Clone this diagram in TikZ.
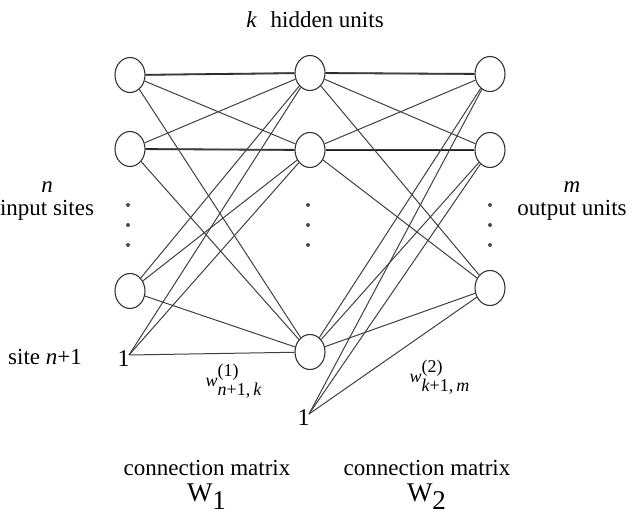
\documentclass[tikz,border=0pt]{standalone}
\usepackage{fontspec}
\setmainfont{Liberation Serif}
\usetikzlibrary{shapes.geometric}
\begin{document}
\begin{tikzpicture}[x=0.5pt,y=-0.5pt,
  unit/.style={draw=black!80,ellipse,inner sep=0pt,minimum width=15pt,minimum height=17.5pt,line width=0.55pt},
  conn/.style={draw=black!75,line width=0.5pt},
  hconn/.style={draw=black!90,line width=0.9pt},
  lbl/.style={font=\fontsize{11.5}{13}\selectfont,inner sep=0pt},
  dotc/.style={fill=black!70,circle,inner sep=0pt,minimum size=2pt}]
\useasboundingbox (0,0) rectangle (641,517);
% nodes
\node[unit] (i1) at (130,75) {};
\node[unit] (i2) at (130,149) {};
\node[unit] (i3) at (130,291) {};
\node[unit] (h1) at (310,73) {};
\node[unit] (h2) at (310,150) {};
\node[unit] (h3) at (310,352) {};
\node[unit] (o1) at (490,74) {};
\node[unit] (o2) at (490,150) {};
\node[unit] (o3) at (490,288) {};
\coordinate (b1) at (129,355);
\coordinate (b2) at (309,414);
\node[lbl,anchor=north east,font=\fontsize{12}{12}\selectfont] (one1) at (130,350) {1};
\node[lbl,anchor=north east,font=\fontsize{12}{12}\selectfont] (one2) at (310,409) {1};
% dots
\foreach \x/\n in {128/a,308/b,490/c}{
  \foreach \y/\k in {205/1,225/2,245/3}{
    \node[dotc] (d\n\k) at (\x,\y) {};
  }
}
% layer 1
\draw[hconn] (i1) -- (h1);
\draw[hconn] (i2) -- (h2);
\foreach \a in {i1,i2,i3}{
  \foreach \b in {h1,h2,h3}{
    \draw[conn] (\a) -- (\b);
  }
}
\foreach \b in {h1,h2,h3}{ \draw[conn] (b1) -- (\b); }
% layer 2
\draw[hconn] (h1) -- (o1);
\draw[hconn] (h2) -- (o2);
\foreach \a in {h1,h2,h3}{
  \foreach \b in {o1,o2,o3}{
    \draw[conn] (\a) -- (\b);
  }
}
\foreach \b in {o1,o2,o3}{ \draw[conn] (b2) -- (\b); }
% labels
\node[lbl] (khid) at (315,20) {\textit{k}\hspace{0.6em}hidden units};
\node[lbl] (nlab) at (47,187) {\textit{n}};
\node[lbl] (inlab) at (47,210) {input sites};
\node[lbl] (mlab) at (572,187) {\textit{m}};
\node[lbl] (outlab) at (572,210) {output units};
\node[lbl] (site) at (45,357) {site \textit{n}+1};
\node[lbl,font=\fontsize{9}{10}\selectfont] (w1) at (234,381) {$\textit{w}^{\textrm{(1)}}_{\textit{n}\textrm{+1,\,}\textit{k}}$};
\node[lbl,font=\fontsize{9}{10}\selectfont] (w2) at (440,377) {$\textit{w}^{\textrm{(2)}}_{\textit{k}\textrm{+1,\,}\textit{m}}$};
\node[lbl] (cm1) at (207,468) {connection matrix};
\node[lbl] (cm2) at (427,468) {connection matrix};
\node[lbl,font=\fontsize{13.5}{14}\selectfont] (W1) at (207,497) {W$_{\textrm{1}}$};
\node[lbl,font=\fontsize{13.5}{14}\selectfont] (W2) at (427,497) {W$_{\textrm{2}}$};
\end{tikzpicture}
\end{document}
